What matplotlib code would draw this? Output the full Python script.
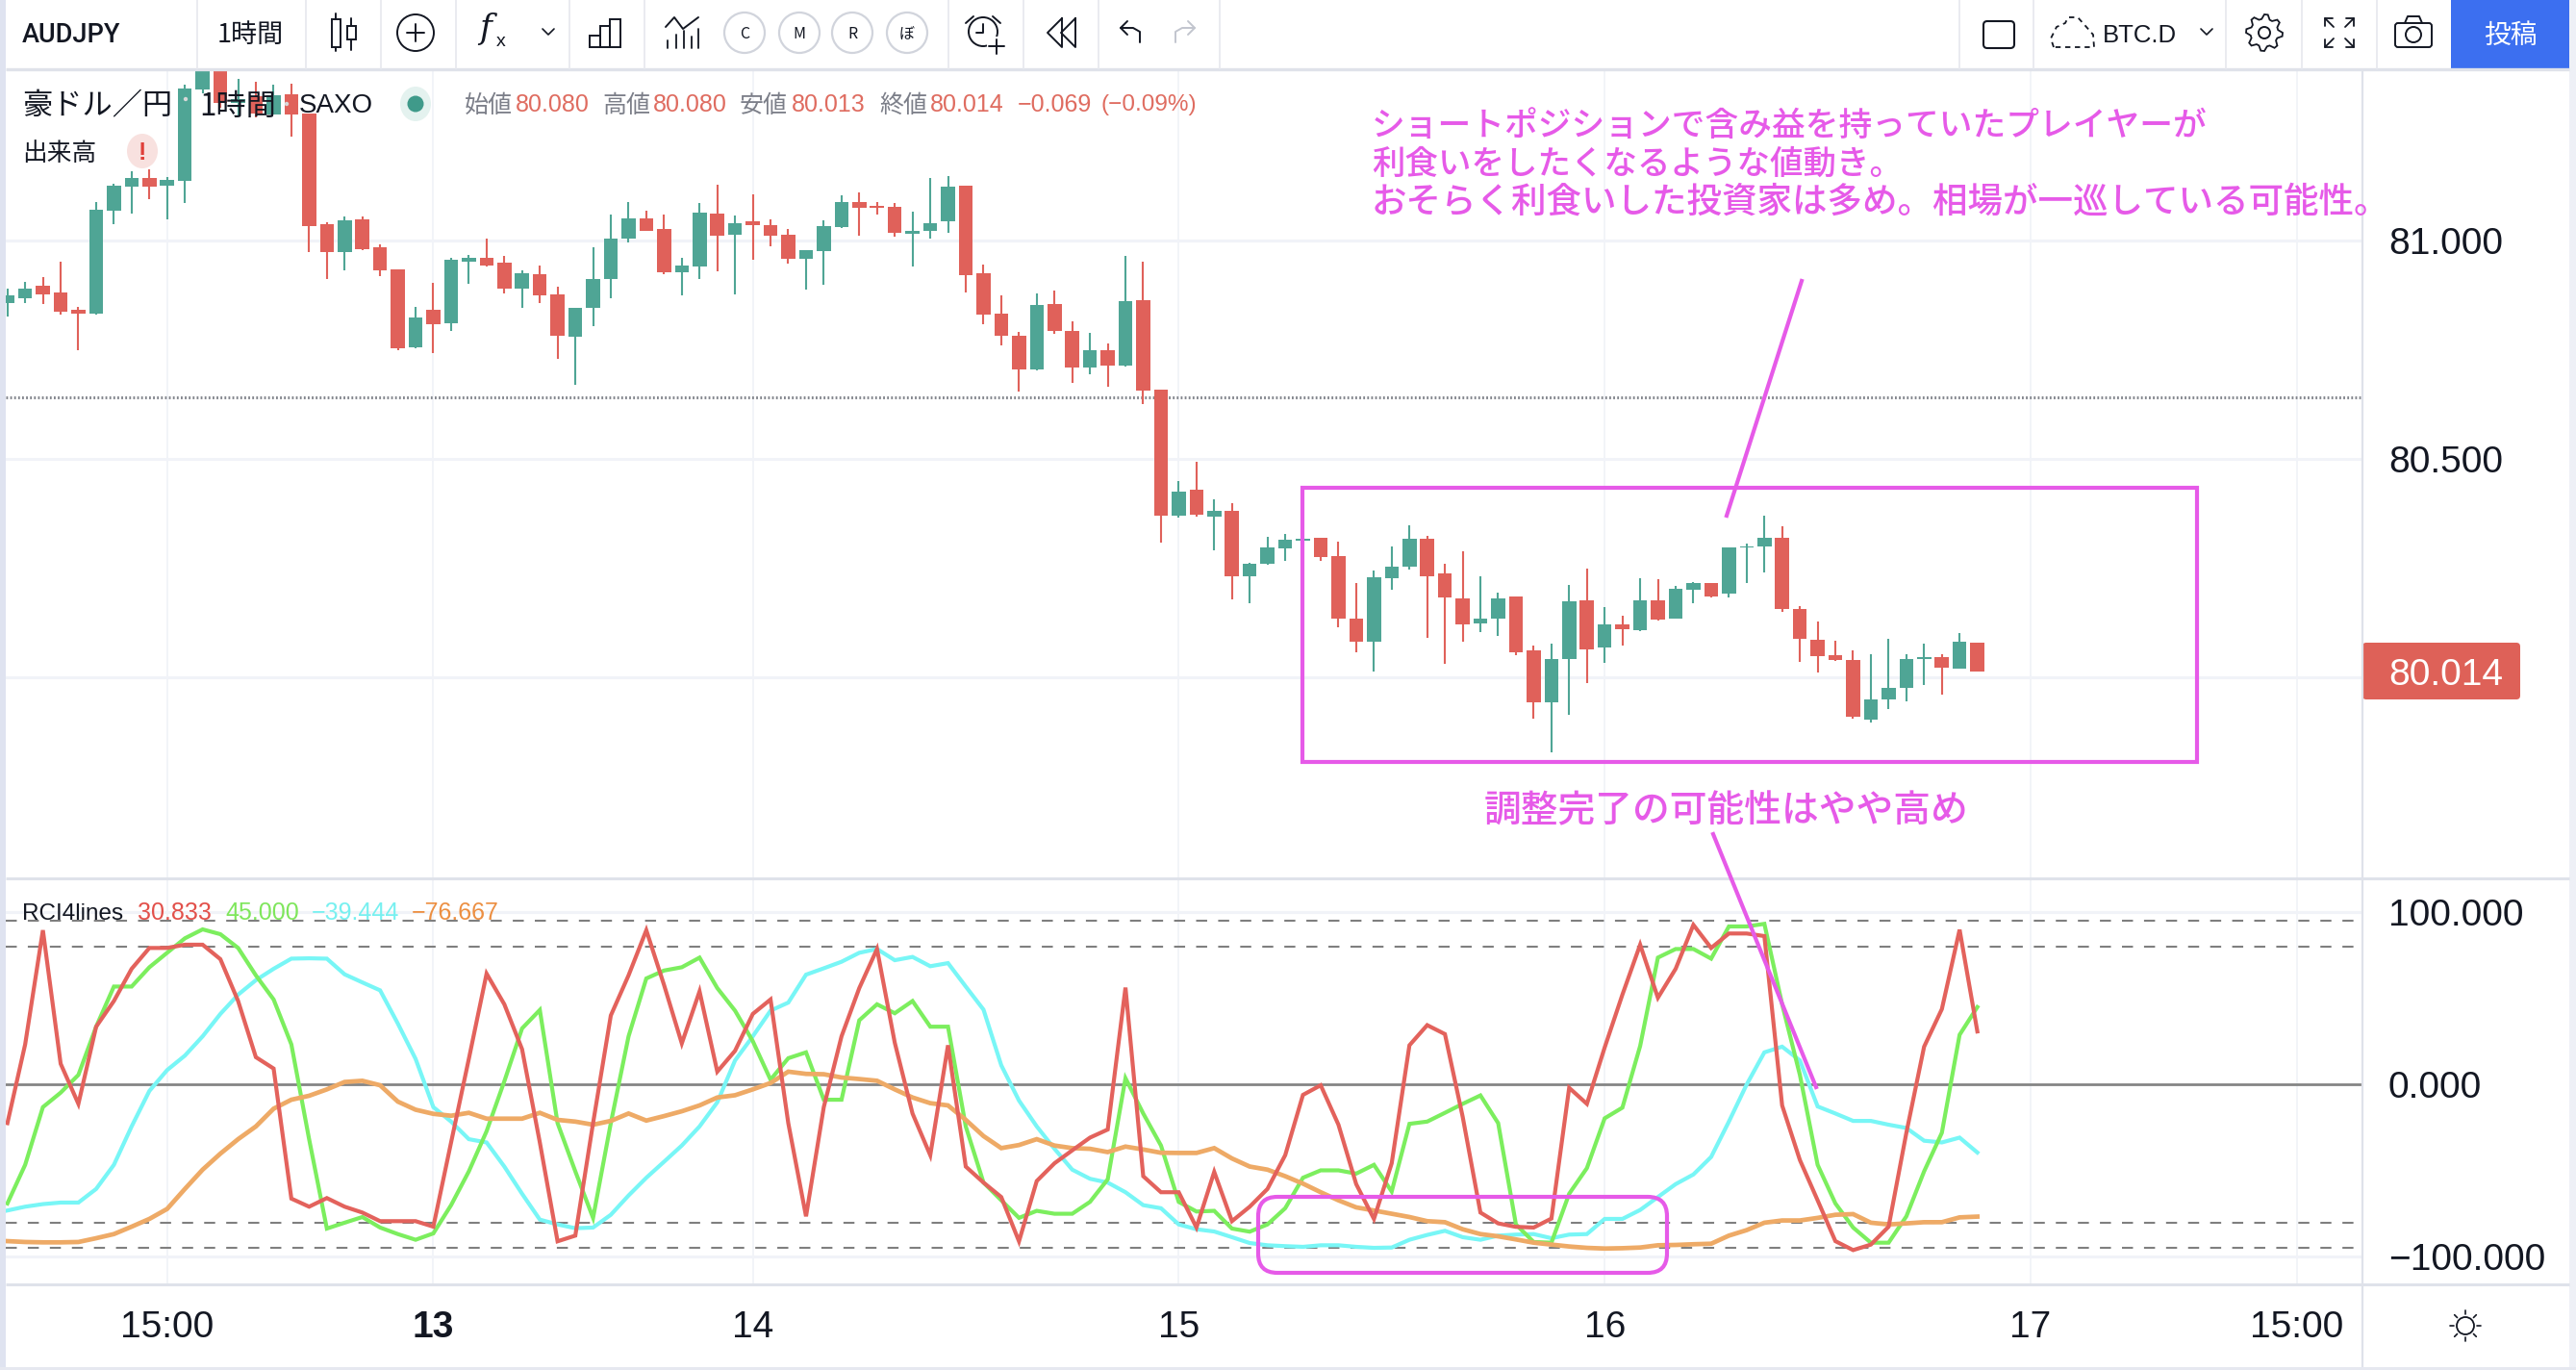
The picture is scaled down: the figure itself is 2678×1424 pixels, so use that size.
import numpy as np
import matplotlib
matplotlib.use("Agg")
import matplotlib.pyplot as plt
from matplotlib.patches import Rectangle, FancyBboxPatch, Circle, Ellipse, Polygon

W, H = 2678, 1424
JP = ['Noto Sans CJK JP', 'DejaVu Sans']
NUM = ['Liberation Sans', 'DejaVu Sans']

o = [80.857,80.868,80.896,80.881,80.841,80.833,81.068,81.123,81.143,81.126,81.137,81.346,81.440,81.315,81.330,81.289,81.335,81.291,81.038,80.974,81.048,80.985,80.935,80.755,80.841,80.811,80.952,80.960,80.949,80.891,80.924,80.877,80.780,80.846,80.912,81.004,81.051,81.026,80.927,80.941,81.062,81.013,81.044,81.035,81.013,80.958,80.976,81.031,81.088,81.079,81.077,81.016,81.021,81.043,81.126,80.925,80.833,80.783,80.705,80.855,80.794,80.710,80.748,80.714,80.863,80.658,80.371,80.429,80.369,80.382,80.231,80.261,80.295,80.313,80.320,80.278,80.135,80.081,80.228,80.253,80.318,80.237,80.181,80.123,80.134,80.185,80.061,79.942,80.041,80.177,80.068,80.121,80.109,80.177,80.135,80.200,80.215,80.192,80.297,80.300,80.320,80.157,80.086,80.051,80.040,79.903,79.950,79.975,80.043,80.046,80.021,80.080]
h = [80.890,80.905,80.916,80.952,80.849,81.088,81.131,81.158,81.162,81.145,81.357,81.460,81.460,81.370,81.363,81.357,81.359,81.291,81.042,81.055,81.054,80.991,80.935,80.847,80.903,80.960,80.968,81.004,80.965,80.932,80.943,80.894,80.846,80.985,81.060,81.088,81.068,81.060,80.961,81.086,81.128,81.057,81.106,81.049,81.026,80.979,81.046,81.103,81.110,81.088,81.087,81.065,81.143,81.147,81.126,80.946,80.875,80.791,80.879,80.885,80.816,80.789,80.764,80.965,80.952,80.658,80.449,80.493,80.407,80.398,80.262,80.321,80.328,80.320,80.320,80.310,80.216,80.245,80.299,80.349,80.325,80.259,80.288,80.231,80.194,80.185,80.074,80.077,80.211,80.248,80.162,80.141,80.226,80.224,80.210,80.218,80.215,80.298,80.307,80.370,80.347,80.163,80.129,80.085,80.061,80.052,80.088,80.053,80.078,80.052,80.101,80.080]
l = [80.827,80.857,80.855,80.830,80.750,80.830,81.037,81.062,81.094,81.048,81.086,81.337,81.304,81.286,81.282,81.289,81.238,80.974,80.913,80.932,80.978,80.919,80.750,80.753,80.743,80.793,80.901,80.941,80.879,80.846,80.857,80.730,80.670,80.803,80.868,80.996,81.021,80.923,80.875,80.912,80.930,80.877,80.956,80.987,80.947,80.888,80.899,81.028,81.011,81.059,81.009,80.940,81.004,81.018,80.881,80.808,80.761,80.655,80.703,80.787,80.675,80.695,80.666,80.712,80.626,80.308,80.365,80.369,80.291,80.179,80.170,80.258,80.267,80.310,80.267,80.115,80.057,80.013,80.201,80.246,80.090,80.030,80.082,80.103,80.095,80.050,79.906,79.829,79.915,79.986,80.034,80.074,80.107,80.130,80.134,80.170,80.184,80.184,80.217,80.241,80.149,80.035,80.012,80.037,79.906,79.897,79.928,79.945,79.983,79.961,80.020,80.013]
c = [80.874,80.891,80.877,80.837,80.833,81.070,81.125,81.143,81.123,81.138,81.348,81.440,81.315,81.324,81.291,81.333,81.289,81.033,80.974,81.046,80.980,80.932,80.754,80.824,80.808,80.956,80.960,80.943,80.890,80.925,80.874,80.782,80.846,80.913,81.004,81.051,81.022,80.927,80.943,81.064,81.011,81.040,81.035,81.011,80.958,80.978,81.032,81.088,81.075,81.075,81.018,81.022,81.039,81.123,80.921,80.830,80.782,80.705,80.852,80.792,80.709,80.750,80.714,80.861,80.656,80.370,80.426,80.372,80.382,80.231,80.261,80.297,80.316,80.317,80.275,80.134,80.081,80.229,80.254,80.318,80.231,80.182,80.121,80.135,80.181,80.057,79.942,80.042,80.175,80.065,80.121,80.110,80.176,80.132,80.203,80.215,80.186,80.298,80.300,80.320,80.156,80.088,80.048,80.039,79.910,79.949,79.976,80.041,80.046,80.023,80.082,80.014]

rci_red = [-22.4,23.3,89.6,12.1,-11.2,33.6,48.5,67.2,79.3,79.3,81.2,81.2,72.8,48.5,15.9,9.3,-66.2,-70.9,-65.9,-70.9,-74.3,-79.3,-79.3,-79.3,-82.5,-33.6,14.9,64.4,46.6,20.5,-33.6,-91.0,-87.7,-22.4,40.1,63.4,89.6,57.8,23.9,54.1,7.5,19.6,41.0,49.4,-22.4,-76.5,-13.1,28.0,56.0,78.7,24.3,-16.8,-41.0,22.8,-47.6,-56.9,-65.3,-91.0,-56.0,-45.7,-38.2,-30.8,-26.1,56.3,-53.2,-62.5,-62.5,-83.0,-50.7,-79.3,-70.9,-60.6,-41.0,-6.0,-0.4,-23.3,-57.8,-78.0,-45.7,22.8,34.5,29.3,-18.7,-74.3,-80.6,-82.6,-83.0,-77.8,-1.9,-11.2,21.5,52.2,81.2,50.4,67.2,92.7,79.3,87.7,87.7,86.2,-12.1,-43.8,-67.2,-90.9,-96.1,-92.9,-82.5,-28.0,22.0,43.8,89.9,30.833]
rci_green = [-69.0,-46.6,-13.1,-4.7,5.6,33.6,56.9,56.9,68.1,76.5,84.9,90.1,87.3,79.3,63.4,49.4,23.3,-31.7,-83.6,-80.2,-76.9,-83.0,-86.8,-90.1,-86.4,-70.0,-50.4,-27.1,1.9,32.6,43.3,-22.4,-50.4,-77.4,-22.4,28.0,61.6,66.2,68.1,73.7,56.0,42.9,25.2,2.8,15.3,18.7,-8.8,-8.8,37.3,46.6,41.4,48.5,33.6,33.6,-24.3,-56.9,-67.2,-77.4,-73.3,-75.0,-75.0,-68.1,-55.0,3.7,-16.8,-35.4,-68.1,-73.7,-73.3,-83.6,-85.4,-81.2,-71.8,-54.1,-49.8,-49.8,-51.7,-46.6,-62.1,-22.8,-21.5,-16.4,-11.2,-6.3,-22.4,-81.2,-91.4,-91.8,-63.4,-48.5,-19.6,-13.4,22.4,73.7,78.7,78.7,73.1,91.8,91.8,93.3,46.6,5.6,-46.6,-69.0,-83.0,-91.8,-91.8,-76.5,-50.4,-28.0,28.9,45.0]
rci_cyan = [-73.1,-70.9,-69.4,-68.5,-68.5,-60.6,-46.6,-24.3,-3.7,8.4,16.8,28.0,41.0,52.2,60.6,67.2,73.1,73.3,73.1,64.0,59.3,54.7,35.4,14.9,-13.1,-21.5,-31.7,-33.6,-47.6,-63.4,-78.4,-81.2,-83.4,-83.0,-75.6,-64.4,-54.1,-44.8,-35.4,-24.3,-10.3,14.0,28.0,42.9,47.6,63.8,67.5,71.3,76.5,78.7,72.2,74.1,68.7,70.5,56.9,43.5,11.2,-9.3,-24.3,-37.3,-49.4,-54.7,-56.9,-62.5,-70.0,-71.8,-81.2,-84.0,-85.3,-88.6,-92.0,-93.3,-93.8,-94.2,-93.3,-93.3,-94.2,-94.8,-94.6,-90.1,-87.3,-84.9,-88.6,-90.1,-87.7,-87.1,-86.8,-89.2,-87.1,-86.8,-78.0,-78.0,-72.8,-65.3,-57.8,-52.2,-42.0,-21.5,0.0,18.7,22.0,14.0,-12.7,-16.8,-21.1,-21.1,-23.3,-25.2,-32.6,-33.6,-30.8,-39.444]
rci_orange = [-90.9,-91.4,-91.6,-91.6,-91.4,-89.2,-86.8,-82.5,-78.0,-72.2,-60.6,-49.4,-40.1,-31.7,-24.3,-14.0,-8.8,-6.5,-2.8,1.5,2.2,-0.4,-9.9,-14.6,-17.0,-18.1,-16.4,-19.8,-19.8,-19.8,-16.4,-20.5,-21.5,-23.3,-21.1,-16.8,-20.9,-18.3,-15.5,-12.1,-7.5,-6.2,-2.8,0.9,7.5,6.2,6.0,4.1,3.2,2.2,-2.8,-7.5,-10.8,-12.1,-20.5,-29.9,-36.9,-35.1,-31.7,-35.4,-36.9,-37.3,-39.2,-36.0,-37.7,-39.6,-39.7,-39.7,-36.9,-42.9,-47.6,-49.4,-53.2,-57.5,-62.5,-67.2,-71.3,-73.1,-75.0,-76.9,-79.3,-79.9,-84.0,-86.8,-88.1,-89.9,-91.8,-92.9,-94.0,-94.8,-95.2,-95.0,-94.6,-93.3,-93.1,-92.7,-92.4,-87.7,-84.5,-80.2,-78.9,-78.9,-77.4,-75.6,-75.2,-80.2,-81.2,-80.6,-79.9,-79.9,-77.1,-76.667]

price_ticks = [81.0, 80.5, 80.0]
price_labels = ['81.000', '80.500']
rci_ticks = [100, 0, -100]
rci_labels = ['100.000', '0.000', '−100.000']
rci_levels = [95, 80, -80, -95]
time_pos = [9, 24, 42, 66, 90, 114, 129]
time_labels = ['15:00', '13', '14', '15', '16', '17', '15:00']
note_top = ['ショートポジションで含み益を持っていたプレイヤーが',
            '利食いをしたくなるような値動き。',
            'おそらく利食いした投資家は多め。相場が一巡している可能性。']
note_sizes = [25.0, 24.8, 26.3]
note_bottom = '調整完了の可能性はやや高め'
ohlc_words = ['始値', '高値', '安値', '終値']
ohlc_vals = ['80.080', '80.080', '80.013', '80.014']

UP, DOWN = '#4fa595', '#e0615a'
PINK = '#e65ae8'
GRID = '#f1f3f8'
EDGE = '#dfe2ea'
INK = '#131722'

plt.rcParams['font.family'] = NUM
fig = plt.figure(figsize=(W / 100, H / 100), dpi=100, facecolor='white')

def make_ax(x0, y0, x1, y1, **kw):
    return fig.add_axes([x0 / W, 1 - y1 / H, (x1 - x0) / W, (y1 - y0) / H], **kw)

# bar position <-> pixel: px = 7.7 + 18.45 * bar
xlim = ((6 - 7.7) / 18.45, (2456 - 7.7) / 18.45)
ax_p = make_ax(6, 72, 2456, 913)
ax_r = make_ax(6, 913, 2456, 1335)
for ax in (ax_p, ax_r):
    ax.set_xlim(*xlim)
    ax.set_xticks([])
    ax.set_yticks([])
    for s in ax.spines.values():
        s.set_visible(False)
    for t in time_pos:
        ax.axvline(t, color=GRID, lw=1.3, zorder=0)
ax_p.set_ylim(79.540, 81.392)
ax_r.set_ylim(-116.0, 119.7)

# price pane
for t in price_ticks:
    ax_p.axhline(t, color=GRID, lw=2.2, zorder=0)
ax_p.axhline(80.641, color='#85888f', lw=2.2, ls=(0, (0.6, 0.75)), zorder=1)
bars = np.arange(len(o))
o_, h_, l_, c_ = map(np.array, (o, h, l, c))
cols = [UP if cc >= oo else DOWN for oo, cc in zip(o_, c_)]
ax_p.vlines(bars, l_, h_, colors=cols, lw=1.5, zorder=2)
ax_p.bar(bars, np.abs(c_ - o_), bottom=np.minimum(o_, c_), width=0.79, color=cols, lw=0, zorder=3)

# RCI pane
for t in (100, -100):
    ax_r.axhline(t, color=GRID, lw=2.2, zorder=0)
for t in rci_levels:
    ax_r.axhline(t, color='#7f7f7f', lw=1.5, ls=(0, (5.5, 5.5)), zorder=1)
ax_r.axhline(0, color='#858585', lw=2.0, zorder=1)
ax_r.plot(bars, rci_cyan, color='#78f6f6', lw=3.0, zorder=2, solid_joinstyle='miter')
ax_r.plot(bars, rci_green, color='#7cee5e', lw=3.0, zorder=3, solid_joinstyle='miter')
ax_r.plot(bars, rci_orange, color='#eeaa66', lw=3.4, zorder=4, solid_joinstyle='miter')
ax_r.plot(bars, rci_red, color='#e3625c', lw=3.0, zorder=5, solid_joinstyle='miter')

# overlay in pixel space: interface and drawings
ui = fig.add_axes([0, 0, 1, 1], facecolor='none', zorder=10)
ui.set_xlim(0, W)
ui.set_ylim(H, 0)
ui.axis('off')

def hline(y, x0, x1, col=EDGE, lw=1.6):
    ui.plot([x0, x1], [y, y], color=col, lw=lw, solid_capstyle='butt')

def vline(x, y0, y1, col=EDGE, lw=1.2):
    ui.plot([x, x], [y0, y1], color=col, lw=lw, solid_capstyle='butt')

def stroke(pts, col=INK, lw=1.4, **kw):
    xs, ys = zip(*pts)
    ui.plot(xs, ys, color=col, lw=lw, solid_capstyle='round', **kw)

def txt(x, y, s, size, col=INK, fam=NUM, ha='left', **kw):
    ui.text(x, y, s, fontsize=size, color=col, family=fam, ha=ha, va='center_baseline', **kw)

# frame
ui.add_patch(Rectangle((0, 0), 6, H, color='#dfe3f0', lw=0))
ui.add_patch(Rectangle((2671, 0), 7, H, color='#eef0f6', lw=0))
ui.add_patch(Rectangle((0, 1421), W, 3, color='#e6e8f0', lw=0))
hline(72, 6, 2671, EDGE, 2.4)
hline(913, 6, 2671, EDGE, 2.2)
hline(1335, 6, 2671, EDGE, 2.2)
vline(2456, 72, 1421, EDGE, 1.6)

# toolbar separators
for x in (205, 318, 396, 474, 592, 670, 986, 1064, 1142, 1268, 2037, 2114, 2314, 2393, 2471):
    vline(x, 0, 72, '#e6e8ee', 1.2)
ui.add_patch(Rectangle((2548, 0), 123, 72, color='#3c6ff0', lw=0))
txt(2610, 33, '投稿', 20, 'white', JP, ha='center')
txt(23, 33, 'AUDJPY', 19.5, INK, ['Roboto', 'DejaVu Sans'], weight='medium')
txt(226, 33, '1時間', 19.5, INK, JP)

# candle icon
for x, y0, y1, b0, b1 in ((349, 14, 53, 20, 49), (365, 19, 52, 27, 41)):
    stroke([(x, y0), (x, y1)])
    ui.add_patch(Rectangle((x - 4.5, b0), 9, b1 - b0, fc='white', ec=INK, lw=1.4, zorder=3))
# plus circle
ui.add_patch(Circle((432, 34), 19, fc='none', ec=INK, lw=1.4))
stroke([(423, 34), (441, 34)])
stroke([(432, 25), (432, 43)])
# fx
ui.text(505, 30, 'f', fontsize=25, style='italic', color=INK, family='DejaVu Serif', ha='center', va='center')
ui.text(521, 43, 'x', fontsize=14, color=INK, family=NUM, ha='center', va='center')
def chevron(x, y, col=INK):
    stroke([(x - 6, y - 3), (x, y + 3), (x + 6, y - 3)], col, 1.2)
chevron(570, 33)
# bars icon
for x0, x1, y0 in ((613, 624, 37), (624, 634, 27), (634, 645, 20)):
    ui.add_patch(Rectangle((x0, y0), x1 - x0, 49 - y0, fc='none', ec=INK, lw=1.4))
# indicators icon
stroke([(692, 28), (701, 18), (710, 30), (726, 18)])
for x, y0 in ((694, 42), (703, 36), (711, 32), (719, 38), (726, 30)):
    stroke([(x, y0), (x, 50)], INK, 1.3)
# letter buttons
for x, s in zip((774, 831, 886, 943), ('C', 'M', 'R', 'ぼ')):
    ui.add_patch(Circle((x, 34), 21, fc='none', ec='#d1d4dc', lw=1.6))
    txt(x, 33, s, 11.5, INK, JP, ha='center')
# alarm
ui.add_patch(Circle((1022, 33), 15, fc='none', ec=INK, lw=1.4))
stroke([(1022, 25), (1022, 34), (1015, 34)])
stroke([(1004, 24), (1012, 17)])
stroke([(1040, 24), (1032, 17)])
ui.add_patch(Rectangle((1026, 38), 18, 18, fc='white', ec='none', zorder=3))
stroke([(1036, 41), (1036, 56)], zorder=4)
stroke([(1028, 48), (1044, 48)], zorder=4)
# rewind
stroke([(1104, 19), (1089, 34), (1104, 49), (1104, 19)])
stroke([(1118, 19), (1103, 34), (1118, 49), (1118, 19)])
# undo / redo
stroke([(1185, 44), (1185, 33), (1178, 29), (1165, 29)])
stroke([(1172, 22), (1165, 29), (1172, 36)])
stroke([(1222, 44), (1222, 33), (1229, 29), (1242, 29)], '#c2c5ce')
stroke([(1235, 22), (1242, 29), (1235, 36)], '#c2c5ce')
# right toolbar
ui.add_patch(FancyBboxPatch((2062, 22), 32, 28, boxstyle='round,pad=0,rounding_size=4', fc='none', ec=INK, lw=1.5))
stroke([(2135, 49), (2132, 40), (2138, 28), (2147, 24), (2150, 18), (2160, 18), (2169, 28), (2176, 36), (2177, 49), (2135, 49)],
       INK, 1.3, ls=(0, (3, 2.6)))
txt(2186, 34, 'BTC.D', 18.5, INK)
chevron(2294, 33)
gear_t = np.deg2rad(np.arange(0, 360, 11.25))
gear_r = np.array([19, 19, 14.5, 14.5] * 8)
gear_pts = list(zip(2354 + gear_r * np.cos(gear_t), 34 + gear_r * np.sin(gear_t)))
ui.add_patch(Polygon(gear_pts, closed=True, fc='none', ec=INK, lw=1.3))
ui.add_patch(Circle((2354, 34), 6, fc='none', ec=INK, lw=1.4))
for sx, sy in ((-1, -1), (1, -1), (-1, 1), (1, 1)):
    cx, cy = 2432 + sx * 15, 34 + sy * 15
    stroke([(cx - sx * 8, cy), (cx, cy), (cx, cy - sy * 8)], INK, 1.3)
    stroke([(cx, cy), (cx - sx * 9, cy - sy * 9)], INK, 1.3)
ui.add_patch(FancyBboxPatch((2490, 24), 38, 25, boxstyle='round,pad=0,rounding_size=3', fc='none', ec=INK, lw=1.4))
ui.add_patch(Circle((2509, 36), 8, fc='none', ec=INK, lw=1.4))
stroke([(2500, 24), (2503, 17), (2515, 17), (2518, 24)])

# legend
txt(23, 107, '豪ドル／円', 22.5, INK, JP)
txt(207, 107, '1時間', 22.5, INK, JP)
txt(311, 107, 'SAXO', 20, INK)
for x, y in ((193, 103), (298, 108)):
    ui.add_patch(Circle((x, y), 2.2, color='#d8d8d8', lw=0))
ui.add_patch(Ellipse((432, 108), 32, 36, color='#e4f2ef', lw=0))
ui.add_patch(Circle((432, 108), 8.5, color='#3f9a8a', lw=0))
GREY = '#7c7f89'
for x, s in zip((483, 626, 769, 914), ohlc_words):
    txt(x, 107, s, 18, GREY, JP)
for x, s in zip((536, 679, 823, 967), ohlc_vals):
    txt(x, 107, s, 18, '#df6c60')
txt(1058, 107, '−0.069', 18, '#df6c60')
txt(1145, 107, '(−0.09%)', 17.6, '#df6c60')
txt(23, 157, '出来高', 18.5, INK, JP)
ui.add_patch(Ellipse((148, 157), 32, 36, color='#f8e1df', lw=0))
txt(148, 157, '!', 18, '#e0403a', ha='center', weight='bold')

# price axis labels
to_y = lambda p: 250 + (81 - p) * 454
for p, s in zip(price_ticks, price_labels):
    txt(2483, to_y(p), s, 28)
ui.add_patch(FancyBboxPatch((2456, 668), 164, 59, boxstyle='round,pad=0,rounding_size=4', fc='#de6158', ec='none'))
txt(2483, 698, '80.014', 28, 'white')

# RCI axis labels
for v, s in zip(rci_ticks, rci_labels):
    txt(2483, 1127.3 - v * 1.79, s, 28)

# RCI legend
txt(23, 947, 'RCI4lines', 17.5, INK)
for x, s, col in ((143, '30.833', '#e2504a'), (234, '45.000', '#7fe65c'),
                  (324, '−39.444', '#78f0f0'), (428, '−76.667', '#ec8f42')):
    txt(x, 947, s, 18, col)

# time labels
to_x = lambda b: 7.7 + 18.45 * b
for b, s in zip(time_pos, time_labels):
    txt(to_x(b), 1376, s, 28, INK, ha='center', weight='bold' if s == '13' else 'normal')
# sun
ui.add_patch(Circle((2563, 1378), 9, fc='none', ec=INK, lw=1.3))
for a in np.deg2rad(np.arange(0, 360, 45)):
    stroke([(2563 + 12 * np.cos(a), 1378 + 12 * np.sin(a)), (2563 + 16 * np.cos(a), 1378 + 16 * np.sin(a))], INK, 1.2)

# analyst drawings
ui.add_patch(Rectangle((1354, 507), 930, 285, fc='none', ec=PINK, lw=3.0))
ui.add_patch(FancyBboxPatch((1308, 1244), 425, 79, boxstyle='round,pad=0,rounding_size=20', fc='none', ec=PINK, lw=3.0))
ui.plot([1873, 1795], [292, 536], color=PINK, lw=3.0)
ui.plot([1781, 1888], [867, 1130], color=PINK, lw=3.0)
for y, s, sz in zip((127, 167, 206), note_top, note_sizes):
    txt(1426, y, s, sz, PINK, JP, weight='medium')
txt(1543, 839, note_bottom, 27.9, PINK, JP, weight='medium')

fig.savefig('out.png', dpi=100, facecolor='white')
